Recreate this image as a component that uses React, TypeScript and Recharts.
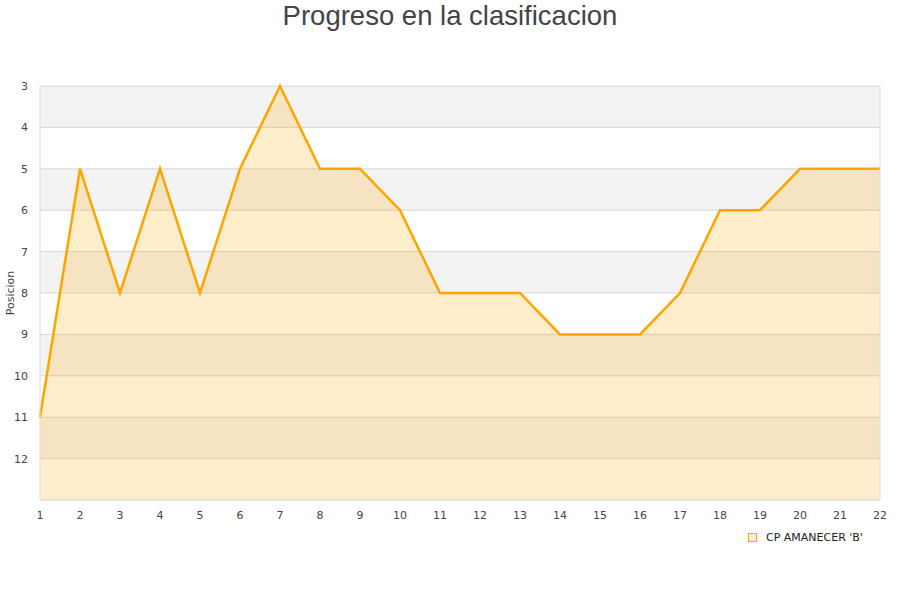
import { ComposedChart, Area, XAxis, YAxis, CartesianGrid, ReferenceArea, ReferenceLine } from "recharts"

const jornadas = [1, 2, 3, 4, 5, 6, 7, 8, 9, 10, 11, 12, 13, 14, 15, 16, 17, 18, 19, 20, 21, 22]
const posiciones = [11, 5, 8, 5, 8, 5, 3, 5, 5, 6, 8, 8, 8, 9, 9, 9, 8, 6, 6, 5, 5, 5]
const yTicks = [3, 4, 5, 6, 7, 8, 9, 10, 11, 12, 13]
const bandStarts = [3, 5, 7, 9, 11]
const teamName = "CP AMANECER 'B'"

const data = jornadas.map((j, i) => ({ jornada: j, pos: posiciones[i] }))

const tickStyle = { fontSize: 11, fill: "#444", fontFamily: "DejaVu Sans" }

export default function App() {
  return (
    <div style={{ position: "absolute", left: 0, top: 0, width: 900, height: 600, background: "#fff" }}>
      <div
        style={{
          position: "absolute",
          top: 0,
          width: 900,
          textAlign: "center",
          fontFamily: "Liberation Sans",
          fontSize: 27.5,
          color: "#444",
          lineHeight: "32px",
        }}
      >
        Progreso en la clasificacion
      </div>
      <div
        style={{
          position: "absolute",
          left: 748,
          top: 531,
          display: "flex",
          alignItems: "center",
          fontFamily: "DejaVu Sans",
          fontSize: 11,
          color: "#222",
        }}
      >
        <span
          style={{
            display: "inline-block",
            width: 7,
            height: 7,
            border: "1px solid #ffa500",
            background: "#ffedcc",
            marginRight: 9,
          }}
        />
        {teamName}
      </div>
      <ComposedChart width={900} height={600} data={data} margin={{ top: 86, right: 20, bottom: 70, left: 0 }}>
        {bandStarts.map((b) => (
          <ReferenceArea key={b} y1={b} y2={b + 1} fill="#000" fillOpacity={0.047} stroke="none" ifOverflow="hidden" />
        ))}
        <CartesianGrid vertical={false} stroke="#dddddd" />
        <XAxis
          dataKey="jornada"
          type="number"
          domain={[1, 22]}
          ticks={jornadas}
          tickLine={false}
          axisLine={{ stroke: "#dddddd" }}
          tick={tickStyle}
          tickMargin={5}
          interval={0}
        />
        <YAxis
          type="number"
          reversed
          domain={[3, 13]}
          ticks={yTicks}
          width={40}
          tickLine={false}
          axisLine={{ stroke: "#dddddd" }}
          tick={tickStyle}
          tickMargin={6}
          tickFormatter={(v: number) => (v === 13 ? "" : String(v))}
          label={{
            value: "Posicion",
            angle: -90,
            position: "insideLeft",
            offset: 10,
            style: { fontSize: 11, fill: "#444", fontFamily: "DejaVu Sans", textAnchor: "middle" },
          }}
        />
        <ReferenceLine x={22} stroke="#dddddd" />
        <Area
          type="linear"
          dataKey="pos"
          stroke="#ffa500"
          strokeWidth={2.5}
          fill="#ffa500"
          fillOpacity={0.2}
          baseValue={13}
          dot={false}
          activeDot={false}
          isAnimationActive={false}
        />
      </ComposedChart>
    </div>
  )
}
